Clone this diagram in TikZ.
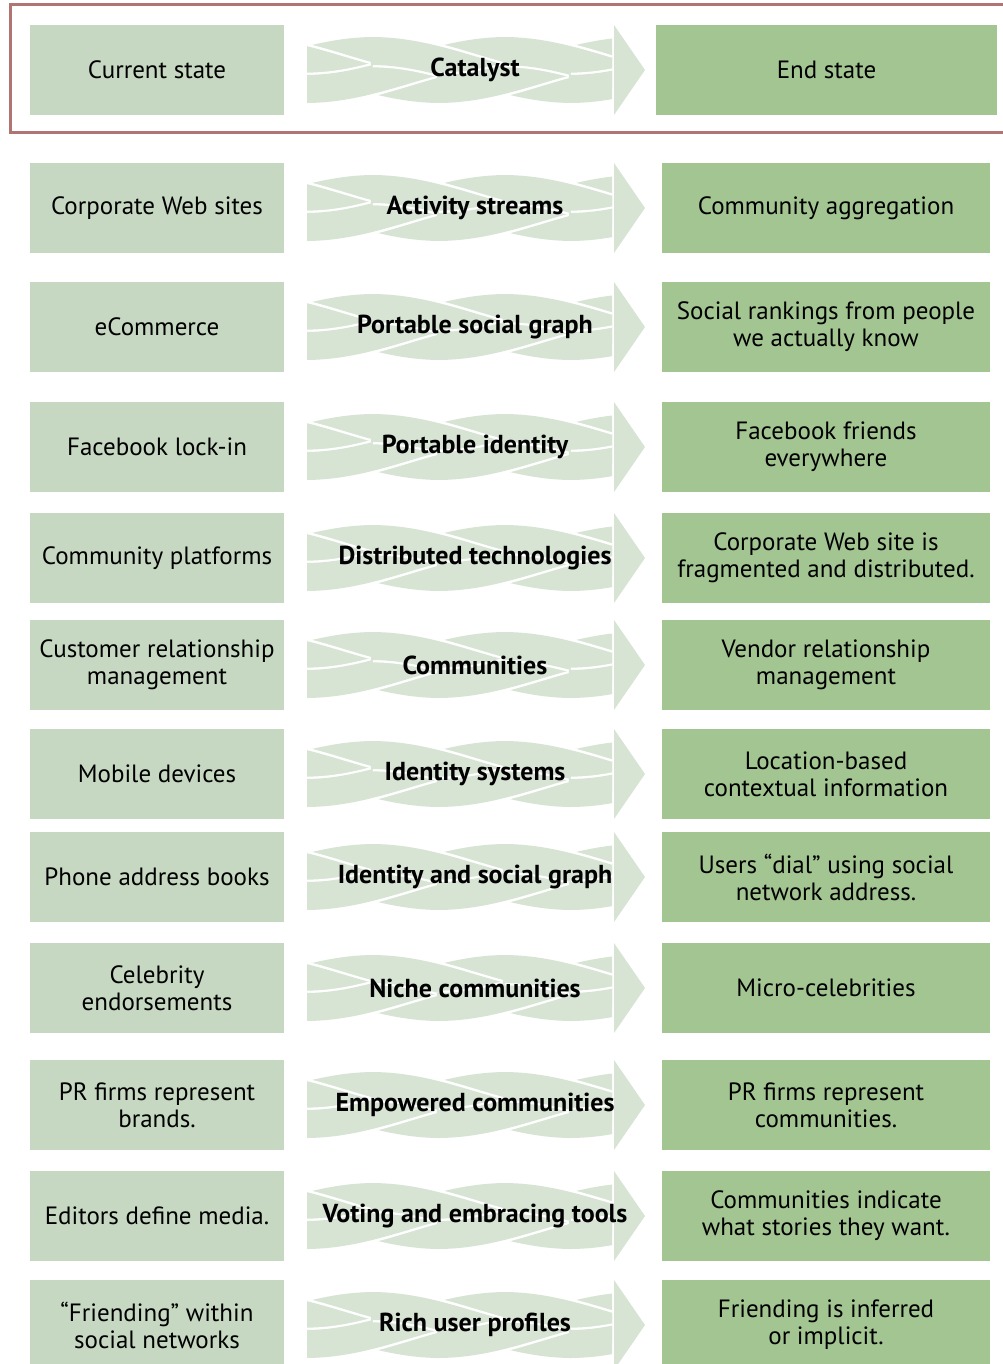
\documentclass[tikz,border=0pt]{standalone}
\usepackage{fontspec}
\setmainfont{PT Sans}
\definecolor{leftc}{HTML}{C6D8C1}
\definecolor{rightc}{HTML}{A2C591}
\definecolor{braidc}{HTML}{D7E4D4}
\definecolor{framec}{HTML}{B07472}
\tikzset{
  braid/.pic={
    \begin{scope}
      \clip (-168,-60) rectangle (137,60);
      \foreach \k in {0,...,9} {
        \pgfmathsetmacro\s{-168-3*66+\k*66}
        \pgfmathsetmacro\d{ifthenelse(mod(\k,2)==0,19,-19)}
        \draw[white, line width=16.4pt]
          (\s,-\d) .. controls (\s+72,-\d) and (\s+126,\d) .. (\s+198,\d);
        \draw[braidc, line width=14pt]
          (\s-2,-\d) .. controls (\s+72,-\d) and (\s+126,\d) .. (\s+200,\d);
      }
    \end{scope}
    \fill[braidc] (139,-45) -- (170,0) -- (139,45) -- cycle;
  },
  leftbox/.style={fill=leftc, minimum width=127pt, minimum height=45pt, inner sep=0pt,
    align=center, font=\fontsize{12.5}{13.5}\selectfont},
  rightbox/.style={fill=rightc, minimum width=164pt, minimum height=45pt, inner sep=0pt,
    align=center, font=\fontsize{12.5}{13.5}\selectfont},
  catlabel/.style={align=center, inner sep=0pt, font=\bfseries\fontsize{13}{14}\selectfont}
}
\newcommand\mkrow[5]{%
  \node[leftbox] (l#1) at (157,#2+45) {#3};
  \pic at (475,#2+45) {braid};
  \node[catlabel] (c#1) at (475,#2+45) {#4};
  \node[rightbox] (r#1) at (826,#2+45) {#5};
}
\begin{document}
\begin{tikzpicture}[x=0.5pt,y=-0.5pt]
\useasboundingbox (0,0) rectangle (1002,1364);
% header frame
\draw[framec, line width=1.5pt] (1010,5) -- (10,5) -- (10,133) -- (1010,133);
% header row
\node[leftbox] (l0) at (157,70) {Current state};
\pic at (475,70) {braid};
\node[catlabel] (c0) at (475,70) {Catalyst};
\node[rightbox, minimum width=170.5pt] (r0) at (826.5,70) {End state};
% rows
\mkrow{1}{163}{Corporate Web sites}{Activity streams}{Community aggregation}
\mkrow{2}{282}{eCommerce}{Portable social graph}{Social rankings from people\\we actually know}
\mkrow{3}{402}{Facebook lock-in}{Portable identity}{Facebook friends\\everywhere}
\mkrow{4}{513}{Community platforms}{Distributed technologies}{Corporate Web site is\\fragmented and distributed.}
\mkrow{5}{620}{Customer relationship\\management}{Communities}{Vendor relationship\\management}
\mkrow{6}{729}{Mobile devices}{Identity systems}{Location-based\\contextual information}
\mkrow{7}{832}{Phone address books}{Identity and social graph}{Users ``dial'' using social\\network address.}
\mkrow{8}{943}{Celebrity\\endorsements}{Niche communities}{Micro-celebrities}
\mkrow{9}{1060}{PR firms represent\\brands.}{Empowered communities}{PR firms represent\\communities.}
\mkrow{10}{1171}{Editors define media.}{Voting and embracing tools}{Communities indicate\\what stories they want.}
\mkrow{11}{1280}{``Friending'' within\\social networks}{Rich user profiles}{Friending is inferred\\or implicit.}
\end{tikzpicture}
\end{document}
